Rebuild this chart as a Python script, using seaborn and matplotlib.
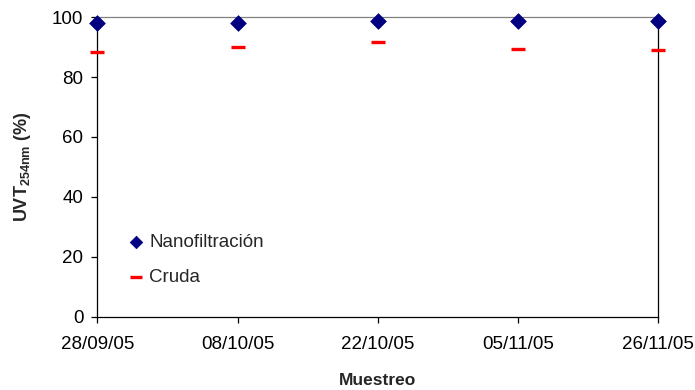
import matplotlib
matplotlib.use('Agg')
import matplotlib.pyplot as plt
import seaborn as sns
import pandas as pd

# sampling dates (shown as evenly spaced categories)
fechas = ['28/09/05', '08/10/05', '22/10/05', '05/11/05', '26/11/05']
nanofiltracion = [98.0, 98.0, 98.7, 98.7, 98.6]
cruda = [88.4, 90.2, 91.8, 89.4, 88.9]

sns.set_style('white')
plt.rcParams['font.family'] = ['Liberation Sans', 'DejaVu Sans']
plt.rcParams['mathtext.fontset'] = 'custom'
plt.rcParams['mathtext.rm'] = 'Liberation Sans:bold'
plt.rcParams['mathtext.it'] = 'Liberation Sans:bold'
plt.rcParams['mathtext.bf'] = 'Liberation Sans:bold'

df_nf = pd.DataFrame({'Muestreo': fechas, 'UVT': nanofiltracion})
df_cr = pd.DataFrame({'Muestreo': fechas, 'UVT': cruda})

fig = plt.figure(figsize=(6.95, 3.9), dpi=100)
ax = fig.add_axes([0.14, 0.188, 0.807, 0.768])

sns.scatterplot(ax=ax, data=df_nf, x='Muestreo', y='UVT', marker='D', s=64,
                color='#000080', edgecolor='#000080', linewidth=0.5,
                label='Nanofiltración', clip_on=False, zorder=4)
sns.scatterplot(ax=ax, data=df_cr, x='Muestreo', y='UVT', marker='_', s=100,
                color='#ff0000', linewidth=2.4,
                label='Cruda', clip_on=False, zorder=3)

ax.set_xlim(0, len(fechas) - 1)
ax.set_ylim(0, 100)
ax.set_yticks(range(0, 101, 20))
ax.set_xticks(range(len(fechas)))
ax.set_xticklabels(fechas)

for side in ['left', 'bottom', 'right']:
    ax.spines[side].set_color('black')
    ax.spines[side].set_linewidth(0.9)
ax.spines['top'].set_color('#808080')
ax.spines['top'].set_linewidth(0.9)

ax.tick_params(axis='both', which='major', direction='out', length=4, width=0.9,
               color='black', labelsize=13.5, labelcolor='black',
               bottom=True, left=True)
ax.tick_params(axis='y', pad=6)
ax.tick_params(axis='x', pad=10)

ax.set_xlabel('Muestreo', fontsize=12.5, fontweight='bold', labelpad=14)
ax.set_ylabel(r'UVT$_{\mathrm{254nm}}$ (%)', fontsize=13, fontweight='bold', labelpad=14)

leg = ax.legend(loc='lower left', bbox_to_anchor=(0.024, 0.045), frameon=False,
                fontsize=13.5, handletextpad=0.25, labelspacing=0.95,
                markerscale=0.8, handlelength=0.9)

fig.savefig('out.png', dpi=100)
